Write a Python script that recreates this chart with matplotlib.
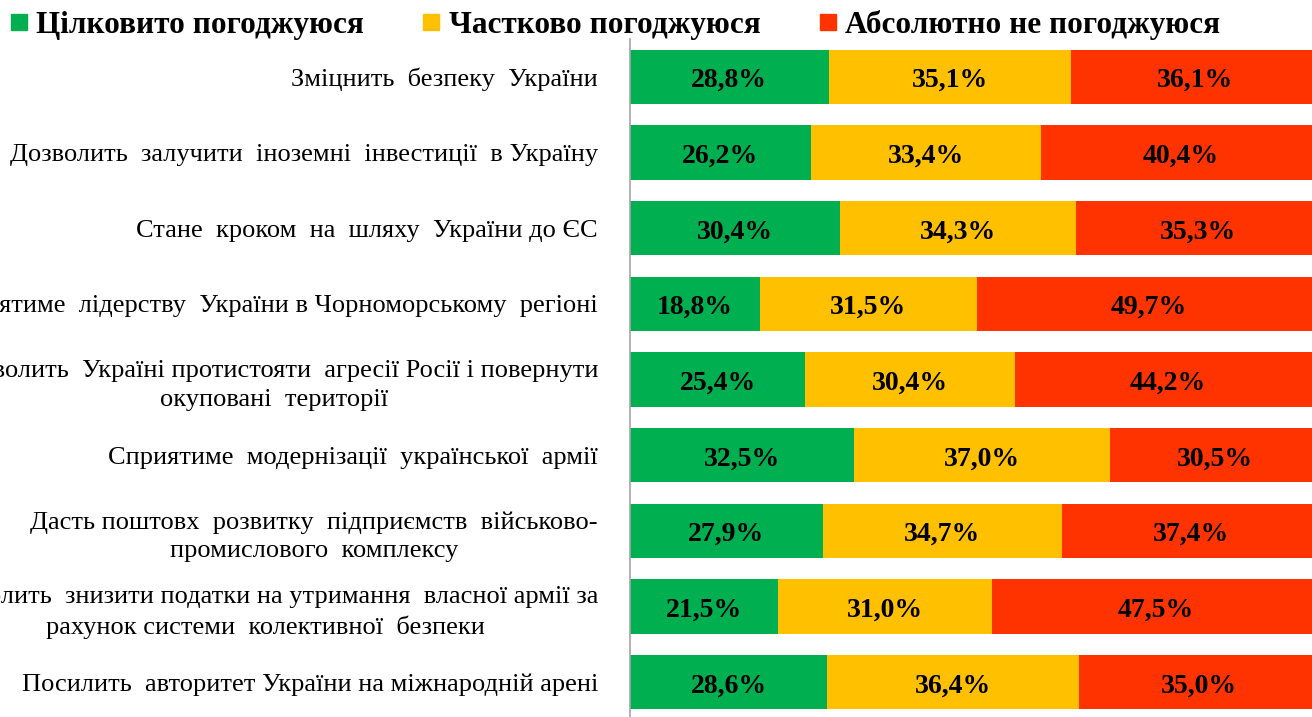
import matplotlib
matplotlib.use("Agg")
import matplotlib.pyplot as plt
from matplotlib.lines import Line2D
import numpy as np

# statements (top to bottom)
statements = [
    "Зміцнить  безпеку  України",
    "Дозволить  залучити  іноземні  інвестиції  в Україну",
    "Стане  кроком  на  шляху  України до ЄС",
    "Сприятиме  лідерству  України в Чорноморському  регіоні",
    "Дозволить  Україні протистояти  агресії Росії і повернути\nокуповані  території",
    "Сприятиме  модернізації  української  армії",
    "Дасть поштовх  розвитку  підприємств  військово-\nпромислового  комплексу",
    "Дозволить  знизити податки на утримання  власної армії за\nрахунок системи  колективної  безпеки",
    "Посилить  авторитет України на міжнародній арені",
]

series_names = ["Цілковито погоджуюся", "Частково погоджуюся", "Абсолютно не погоджуюся"]
fully_agree = [28.8, 26.2, 30.4, 18.8, 25.4, 32.5, 27.9, 21.5, 28.6]
partly_agree = [35.1, 33.4, 34.3, 31.5, 30.4, 37.0, 34.7, 31.0, 36.4]
disagree = [36.1, 40.4, 35.3, 49.7, 44.2, 30.5, 37.4, 47.5, 35.0]

colors = ["#00B050", "#FFC000", "#FF3300"]
serif = "Liberation Serif"

W, H = 1312, 717
fig = plt.figure(figsize=(W / 100, H / 100), dpi=100)
# plot area: x from 630px to ~1320px (bars run slightly past the right edge)
ax = fig.add_axes([630 / W, 1 - 720 / H, 690 / W, 681 / H])

y = np.arange(len(statements))
left = np.zeros(len(statements))
for vals, color, name in zip([fully_agree, partly_agree, disagree], colors, series_names):
    ax.barh(y, vals, left=left, height=0.72, color=color, label=name)
    for i, v in enumerate(vals):
        ax.text(left[i] + v / 2, i + 0.05, f"{v:.1f}%".replace(".", ","),
                ha="center", va="center", fontsize=20, fontweight="bold",
                family=serif, color="black")
    left += np.array(vals)

ax.set_xlim(0, 100)
ax.set_ylim(len(statements) - 0.5, -0.5)
ax.set_yticks(y)
ax.set_yticklabels(statements, family=serif, fontsize=19, ha="right",
                   multialignment="center", linespacing=1.4)
ax.tick_params(axis="y", length=0, pad=23)
ax.set_xticks([])
for s in ["top", "right", "bottom"]:
    ax.spines[s].set_visible(False)
ax.spines["left"].set_color("#A6A6A6")
ax.spines["left"].set_linewidth(1.2)

handles = [Line2D([], [], marker="s", linestyle="none", markersize=11.5,
                  markerfacecolor=c, markeredgecolor=c) for c in colors]
fig.legend(handles, series_names, loc="upper left", bbox_to_anchor=(-0.014, 1.025),
           ncol=3, frameon=False, handlelength=0.6, handletextpad=0.25,
           columnspacing=1.85, prop={"family": serif, "weight": "bold", "size": 22.5})

fig.savefig("out.png", dpi=100)
